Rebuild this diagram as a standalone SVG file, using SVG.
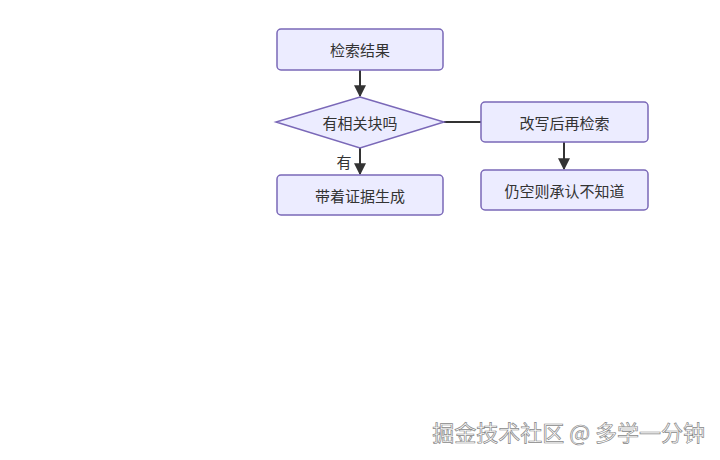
<svg xmlns="http://www.w3.org/2000/svg" width="720" height="460" viewBox="0 0 720 460">
<style>
.n{fill:#ECECFF;stroke:#7a68b8;stroke-width:1.5}
.t{font-family:"Noto Sans CJK SC",sans-serif;font-size:15px;fill:#333;text-anchor:middle;dominant-baseline:central}
.e{stroke:#333;stroke-width:2;fill:none}
</style>
<defs><marker id="a" viewBox="0 0 10 10" refX="9" refY="5" markerWidth="6" markerHeight="6" orient="auto"><path d="M0,0L10,5L0,10z" fill="#333"/></marker></defs>
<rect width="720" height="460" fill="#fff"/>
<g id="edges">
<path class="e" d="M360,70V96" marker-end="url(#a)"/>
<path class="e" d="M360,148V174" marker-end="url(#a)"/>
<path class="e" d="M444,122H481"/>
<path class="e" d="M564,142V169" marker-end="url(#a)"/>
<text class="t" x="344" y="161">有</text>
</g>
<g id="n1"><rect class="n" x="277" y="29" width="166" height="41" rx="4"/><text class="t" x="360" y="49.5">检索结果</text></g>
<g id="n2"><polygon class="n" points="360,97 444,122 360,148 276,122"/><text class="t" x="360" y="122">有相关块吗</text></g>
<g id="n3"><rect class="n" x="481" y="102" width="167" height="40" rx="4"/><text class="t" x="564.5" y="122">改写后再检索</text></g>
<g id="n4"><rect class="n" x="277" y="175" width="166" height="40" rx="4"/><text class="t" x="360" y="195">带着证据生成</text></g>
<g id="n5"><rect class="n" x="481" y="170" width="167" height="40" rx="4"/><text class="t" x="564.5" y="190">仍空则承认不知道</text></g>
<text x="705" y="441" font-family="Noto Sans CJK SC,sans-serif" font-size="22" fill="#fff" stroke="#888" stroke-width="0.7" text-anchor="end">掘金技术社区 @ 多学一分钟</text>
</svg>
